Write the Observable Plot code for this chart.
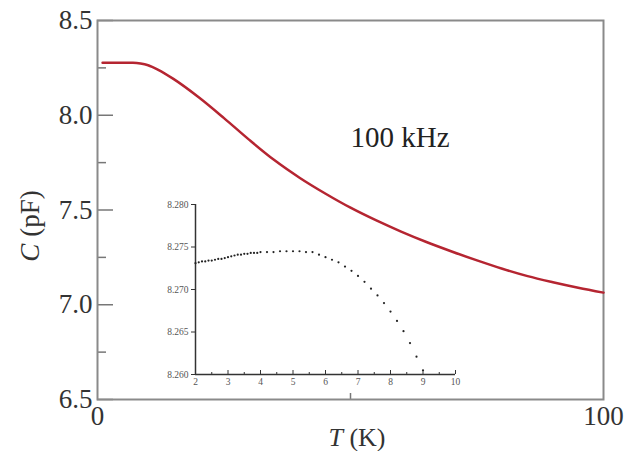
<!DOCTYPE html>
<html><head><meta charset="utf-8">
<script src="https://cdn.jsdelivr.net/npm/d3@7"></script>
<script src="https://cdn.jsdelivr.net/npm/@observablehq/plot@0.6"></script>
<style>
body{margin:0;background:#fff;}
#wrap{position:relative;width:634px;height:451px;overflow:hidden;background:#fff;}
#wrap svg{position:absolute;}
</style></head><body><div id="wrap"></div>
<script>
// Main curve: capacitance vs temperature at 100 kHz
const mainT = [1, 5, 7, 8.5, 10, 12, 15, 20, 25, 30, 35, 40, 45, 50, 55, 60, 65, 70, 75, 80, 85, 90, 95, 100];
const mainC = [8.277, 8.277, 8.2765, 8.273, 8.264, 8.240, 8.192, 8.095, 7.985, 7.870, 7.762, 7.669, 7.587, 7.512, 7.446, 7.386, 7.331, 7.281, 7.234, 7.190, 7.151, 7.119, 7.090, 7.064];
const yMajorTicks = [6.5, 7.0, 7.5, 8.0, 8.5];
const yMinorTicks = [6.75, 7.25, 7.75, 8.25];
const xTickLabels = [0, 100];
const xMinorTicks = [50];
const annotationText = "100 kHz";
const annotationT = 50;
const annotationC = 7.88;

// Inset: low-temperature detail
const insetT = [2.0, 2.1, 2.2, 2.3, 2.4, 2.5, 2.6, 2.7, 2.8, 2.9, 3.0, 3.1, 3.2, 3.3, 3.4, 3.5, 3.6, 3.7, 3.8, 3.9, 4.0, 4.2, 4.4, 4.6, 4.8, 5.0, 5.2, 5.4, 5.6, 5.8, 6.0, 6.2, 6.4, 6.6, 6.8, 7.0, 7.2, 7.4, 7.6, 7.8, 8.0, 8.2, 8.4, 8.6, 8.8, 9.0];
const insetC = [8.2731, 8.2732, 8.2733, 8.2733, 8.2734, 8.2734, 8.2735, 8.2736, 8.2736, 8.2737, 8.2738, 8.2739, 8.2740, 8.2741, 8.2741, 8.2742, 8.2742, 8.2743, 8.2743, 8.2743, 8.2744, 8.2744, 8.2744, 8.2745, 8.2745, 8.2745, 8.2745, 8.2744, 8.2744, 8.2741, 8.2738, 8.2735, 8.2732, 8.2727, 8.2722, 8.2716, 8.2709, 8.2701, 8.2693, 8.2684, 8.2674, 8.2663, 8.2651, 8.2637, 8.2621, 8.2605];
const insetXTicks = [2, 3, 4, 5, 6, 7, 8, 9, 10];
const insetXMinor = [2.5, 3.5, 4.5, 5.5, 6.5, 7.5, 8.5, 9.5];
const insetYTicks = [8.260, 8.265, 8.270, 8.275, 8.280];

const serif = "'Liberation Serif', 'Times New Roman', serif";
const mainData = mainT.map((t, i) => ({T: t, C: mainC[i]}));
const insetData = insetT.map((t, i) => ({T: t, C: insetC[i]}));

const main = Plot.plot({
  width: 634, height: 451,
  marginLeft: 97, marginRight: 31, marginTop: 20, marginBottom: 52,
  x: {domain: [0, 100]},
  y: {domain: [6.5, 8.5]},
  style: {fontFamily: serif, background: "transparent", color: "#333"},
  marks: [
    Plot.axisY(yMajorTicks, {tickSize: 0, tickPadding: 5, tickFormat: d3.format(".1f"), fontSize: 27, label: null}),
    Plot.axisY(yMajorTicks, {tickSize: -16, fill: "none", stroke: "#777", strokeWidth: 1.5}),
    Plot.axisY(yMinorTicks, {tickSize: -9, fill: "none", stroke: "#777", strokeWidth: 1.5}),
    Plot.axisX(xTickLabels, {tickSize: 0, tickPadding: 6, tickFormat: d => String(d), fontSize: 27, label: null}),
    Plot.axisX(xMinorTicks, {tickSize: -6, fill: "none", stroke: "#777", strokeWidth: 1.5}),
    Plot.frame({stroke: "#8a8a8a", strokeWidth: 2}),
    Plot.line(mainData, {x: "T", y: "C", stroke: "#b52531", strokeWidth: 2.5, curve: "monotone-x"}),
    Plot.text([{T: annotationT, C: annotationC, label: annotationText}], {x: "T", y: "C", text: "label", textAnchor: "start", fontSize: 29, fill: "#222"})
  ]
});

const svg = d3.select(main);
const yl = svg.append("text")
  .attr("transform", "translate(30,226) rotate(-90)")
  .attr("text-anchor", "middle").attr("dy", "0.35em")
  .attr("font-family", serif).attr("font-size", 27).attr("fill", "#333");
yl.append("tspan").attr("font-style", "italic").text("C");
yl.append("tspan").text(" (pF)");
const xl = svg.append("text")
  .attr("transform", "translate(357,437)")
  .attr("text-anchor", "middle").attr("dy", "0.35em")
  .attr("font-family", serif).attr("font-size", 26).attr("fill", "#333");
xl.append("tspan").attr("font-style", "italic").text("T");
xl.append("tspan").text(" (K)");

const inset = Plot.plot({
  width: 330, height: 210,
  marginLeft: 45, marginRight: 25, marginTop: 14, marginBottom: 26,
  x: {domain: [2, 10]},
  y: {domain: [8.260, 8.280]},
  style: {fontFamily: serif, background: "transparent", color: "#555"},
  marks: [
    Plot.ruleX([insetXTicks[0]], {stroke: "#333", strokeWidth: 1.5}),
    Plot.ruleY([insetYTicks[0]], {stroke: "#333", strokeWidth: 1.5}),
    Plot.axisY(insetYTicks, {tickSize: 4, tickPadding: 3, tickFormat: d3.format(".3f"), fontSize: 9.5, label: null, stroke: "#333"}),
    Plot.axisX(insetXTicks, {tickSize: -4, fill: "none", stroke: "#333"}),
    Plot.axisX(insetXMinor, {tickSize: -2, fill: "none", stroke: "#333"}),
    Plot.axisX(insetXTicks, {tickSize: 0, tickPadding: 4, fontSize: 9.5, label: null}),
    Plot.dot(insetData, {x: "T", y: "C", r: 1.1, fill: "#222", stroke: "none"})
  ]
});
inset.style.left = "150px";
inset.style.top = "190px";
main.style.left = "0px";
main.style.top = "0px";

const wrap = document.getElementById("wrap");
wrap.appendChild(main);
wrap.appendChild(inset);
</script>
</body></html>
